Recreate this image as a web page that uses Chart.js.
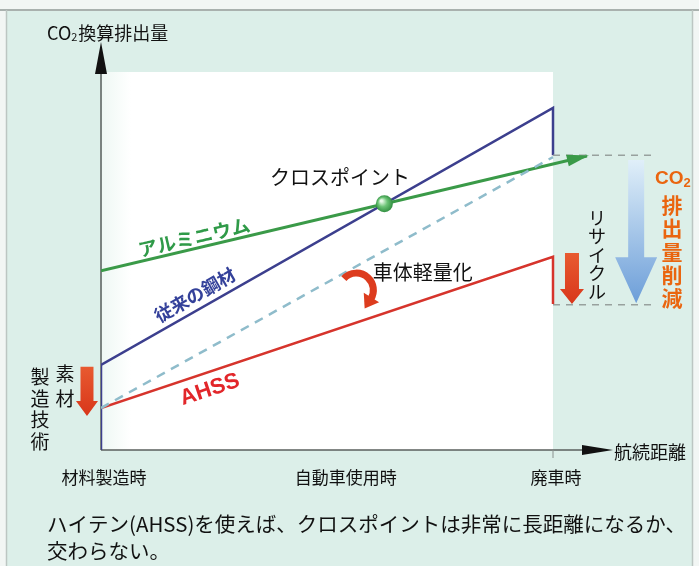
<!DOCTYPE html>
<html>
<head>
<meta charset="utf-8">
<script src="https://cdn.jsdelivr.net/npm/chart.js@4"></script>
<style>
  body { margin: 0; background: #f2f6f4; }
  canvas { display: block; }
</style>
</head>
<body>
<canvas id="mycanvas" width="699" height="566"></canvas>
<script>
// category ticks along the distance axis
var categories = ['材料製造時', '自動車使用時', '廃車時'];
var categoryX = [0, 0.535, 1];

// CO2 lines (x: 0 = material production, 1 = scrapping)
var aluminumX = [0, 1.075];
var aluminumY = [47.4, 77.8];
var steelX = [0, 0, 1, 1];
var steelY = [0, 22.5, 90.5, 78];
var ahssX = [0, 1, 1];
var ahssY = [11.1, 51.1, 38.6];
var ahssNoLightX = [0, 1];
var ahssNoLightY = [11.1, 77.5];
var guideX = [1, 1.23];
var guideHighY = [78, 78];
var guideLowY = [38.4, 38.4];

function pts(xs, ys) {
  var out = [];
  for (var i in xs) out.push({x: xs[i], y: ys[i]});
  return out;
}

var JP = '"Noto Sans CJK JP", "Noto Sans", sans-serif';

function arrowDown(ctx, x, top, tip, shaft, head, headLen, fill) {
  ctx.save();
  ctx.fillStyle = fill;
  ctx.beginPath();
  ctx.moveTo(x - shaft / 2, top);
  ctx.lineTo(x + shaft / 2, top);
  ctx.lineTo(x + shaft / 2, tip - headLen);
  ctx.lineTo(x + head / 2, tip - headLen);
  ctx.lineTo(x, tip);
  ctx.lineTo(x - head / 2, tip - headLen);
  ctx.lineTo(x - shaft / 2, tip - headLen);
  ctx.closePath();
  ctx.fill();
  ctx.restore();
}

function vtext(ctx, str, x, y0, step, font, color) {
  ctx.save();
  ctx.font = font;
  ctx.fillStyle = color;
  ctx.textAlign = 'center';
  ctx.textBaseline = 'middle';
  var chars = Array.from(str);
  for (var i = 0; i < chars.length; i++) ctx.fillText(chars[i], x, y0 + i * step);
  ctx.restore();
}

function rtext(ctx, str, x, y, ang, font, color) {
  ctx.save();
  ctx.translate(x, y);
  ctx.rotate(ang);
  ctx.font = font;
  ctx.fillStyle = color;
  ctx.textAlign = 'center';
  ctx.textBaseline = 'middle';
  ctx.fillText(str, 0, 0);
  ctx.restore();
}

var backdrop = {
  id: 'backdrop',
  beforeDraw: function(chart) {
    var ctx = chart.ctx, a = chart.chartArea;
    var xs = chart.scales.x;
    ctx.save();
    ctx.fillStyle = '#f2f6f4';
    ctx.fillRect(0, 0, 699, 566);
    ctx.fillStyle = '#dcefe9';
    ctx.fillRect(7, 11, 685, 555);
    ctx.strokeStyle = '#a9b1ae';
    ctx.lineWidth = 2;
    ctx.beginPath(); ctx.moveTo(0, 10); ctx.lineTo(699, 10); ctx.stroke();
    ctx.strokeStyle = '#bcc6c2';
    ctx.lineWidth = 1.5;
    ctx.beginPath(); ctx.moveTo(6.5, 10); ctx.lineTo(6.5, 566); ctx.stroke();
    ctx.beginPath(); ctx.moveTo(692.5, 10); ctx.lineTo(692.5, 566); ctx.stroke();
    // white plot panel up to the scrapping point
    var g = ctx.createLinearGradient(a.left, 0, a.left + 30, 0);
    g.addColorStop(0, '#eef8f4');
    g.addColorStop(1, '#ffffff');
    ctx.fillStyle = g;
    ctx.fillRect(a.left + 1, a.top, xs.getPixelForValue(1) - a.left - 1, a.bottom - a.top);
    ctx.restore();
  },
  beforeDatasetsDraw: function(chart) {
    var ctx = chart.ctx, a = chart.chartArea;
    ctx.save();
    ctx.strokeStyle = '#5a5f5d';
    ctx.lineWidth = 1.5;
    ctx.beginPath(); ctx.moveTo(a.left, a.bottom); ctx.lineTo(a.left, 60); ctx.stroke();
    ctx.beginPath(); ctx.moveTo(a.left, a.bottom); ctx.lineTo(595, a.bottom); ctx.stroke();
    ctx.fillStyle = '#111';
    ctx.beginPath(); ctx.moveTo(a.left, 42); ctx.lineTo(a.left + 6, 74); ctx.lineTo(a.left - 6, 74); ctx.closePath(); ctx.fill();
    ctx.beginPath(); ctx.moveTo(613, a.bottom); ctx.lineTo(582, a.bottom - 5); ctx.lineTo(582, a.bottom + 5); ctx.closePath(); ctx.fill();
    var x1 = chart.scales.x.getPixelForValue(1);
    ctx.strokeStyle = '#8a918e';
    ctx.lineWidth = 1;
    ctx.beginPath(); ctx.moveTo(x1, a.bottom); ctx.lineTo(x1, a.bottom + 8); ctx.stroke();
    ctx.restore();
  },
  afterDatasetsDraw: function(chart) {
    var ctx = chart.ctx, a = chart.chartArea;
    var xs = chart.scales.x, ys = chart.scales.y;
    function px(v) { return xs.getPixelForValue(v); }
    function py(v) { return ys.getPixelForValue(v); }

    // aluminium arrow head
    var ax0 = px(aluminumX[0]), ay0 = py(aluminumY[0]);
    var ax1 = px(aluminumX[1]), ay1 = py(aluminumY[1]);
    var ang = Math.atan2(ay1 - ay0, ax1 - ax0);
    ctx.save();
    ctx.translate(ax1, ay1);
    ctx.rotate(ang);
    ctx.fillStyle = '#3a9a48';
    ctx.beginPath(); ctx.moveTo(2, 0); ctx.lineTo(-20, -6); ctx.lineTo(-20, 6); ctx.closePath(); ctx.fill();
    ctx.restore();

    // cross point of aluminium and conventional steel
    var sx0 = px(steelX[1]), sy0 = py(steelY[1]), sx1 = px(steelX[2]), sy1 = py(steelY[2]);
    var m1 = (ay1 - ay0) / (ax1 - ax0), m2 = (sy1 - sy0) / (sx1 - sx0);
    var cx = (sy0 - ay0 + m1 * ax0 - m2 * sx0) / (m1 - m2);
    var cy = ay0 + m1 * (cx - ax0);
    var rg = ctx.createRadialGradient(cx - 3, cy - 3, 1, cx, cy, 9);
    rg.addColorStop(0, '#e8fae8');
    rg.addColorStop(0.45, '#6cc476');
    rg.addColorStop(1, '#2c8a3c');
    ctx.save();
    ctx.fillStyle = rg;
    ctx.beginPath(); ctx.arc(cx, cy, 8.5, 0, Math.PI * 2); ctx.fill();
    ctx.restore();

    // curved lightweighting arrow
    var ccx = px(0.565), ccy = py(42.3), r = 17;
    var endA = 0.75;
    ctx.save();
    ctx.strokeStyle = '#dd3c1e';
    ctx.lineWidth = 7;
    ctx.beginPath(); ctx.arc(ccx, ccy, r, -2.4, endA - 0.2); ctx.stroke();
    var ex = ccx + r * Math.cos(endA), ey = ccy + r * Math.sin(endA);
    ctx.translate(ex, ey);
    ctx.rotate(endA + Math.PI / 2 - 0.2);
    ctx.fillStyle = '#dd3c1e';
    ctx.beginPath(); ctx.moveTo(8, 0); ctx.lineTo(-5, -9); ctx.lineTo(-5, 9); ctx.closePath(); ctx.fill();
    ctx.restore();

    // red arrows: material technology and recycling
    var rg1 = ctx.createLinearGradient(0, py(22), 0, py(9));
    rg1.addColorStop(0, '#e85a30'); rg1.addColorStop(1, '#d8361a');
    arrowDown(ctx, px(-0.031), py(22), py(9), 13, 22, 15, rg1);
    var rg2 = ctx.createLinearGradient(0, py(52), 0, py(38.4));
    rg2.addColorStop(0, '#e85a30'); rg2.addColorStop(1, '#d8361a');
    arrowDown(ctx, px(1.042), py(52.1), py(38.6), 14, 24, 15, rg2);

    // big blue reduction arrow
    var bg = ctx.createLinearGradient(0, py(76.7), 0, py(38.4));
    bg.addColorStop(0, '#e0eff9'); bg.addColorStop(1, '#6b9dd8');
    arrowDown(ctx, px(1.184), py(76.7), py(38.8), 16, 42, 46, bg);

    // texts inside the plot
    var angA = Math.atan2(py(aluminumY[1]) - py(aluminumY[0]), px(aluminumX[1]) - px(aluminumX[0]));
    var angS = Math.atan2(py(steelY[2]) - py(steelY[1]), px(steelX[2]) - px(steelX[1]));
    var angH = Math.atan2(py(ahssY[1]) - py(ahssY[0]), px(ahssX[1]) - px(ahssX[0]));
    rtext(ctx, 'アルミニウム', px(0.206), py(56.3), angA, 'bold 19px ' + JP, '#2f9a48');
    rtext(ctx, '従来の鋼材', px(0.208), py(41.0), angS, 'bold 18px ' + JP, '#34419a');
    rtext(ctx, 'AHSS', px(0.241), py(15.9), angH, 'bold 22px Arial, "Liberation Sans", sans-serif', '#e2262a');
    rtext(ctx, 'クロスポイント', px(0.529), py(72.0), 0, '20px ' + JP, '#111');
    rtext(ctx, '車体軽量化', px(0.712), py(47.1), 0, '20px ' + JP, '#111');

    vtext(ctx, 'リサイクル', 597, 218, 18.5, '18px ' + JP, '#111');
    ctx.save();
    ctx.fillStyle = '#ea650f';
    ctx.font = 'bold 19px Arial, "Liberation Sans", sans-serif';
    ctx.textAlign = 'left';
    ctx.textBaseline = 'middle';
    ctx.fillText('CO', 655, 179);
    var w = ctx.measureText('CO').width;
    ctx.font = 'bold 13px Arial, "Liberation Sans", sans-serif';
    ctx.fillText('2', 655 + w, 183);
    ctx.restore();
    vtext(ctx, '排出量削減', 672, 205, 23.3, 'bold 21px ' + JP, '#ea650f');

    vtext(ctx, '素材', 65, 374, 25, '19px ' + JP, '#111');
    vtext(ctx, '製造技術', 40, 377, 21.5, '19px ' + JP, '#111');

    // axis captions and category ticks
    ctx.save();
    ctx.fillStyle = '#111';
    ctx.textBaseline = 'middle';
    ctx.textAlign = 'left';
    ctx.font = '18px ' + JP;
    ctx.fillText('CO', 47, 33);
    var cw = ctx.measureText('CO').width;
    ctx.font = '11px ' + JP;
    ctx.fillText('2', 47 + cw, 37);
    var c2 = ctx.measureText('2').width;
    ctx.font = '18px ' + JP;
    ctx.fillText('換算排出量', 48 + cw + c2, 33);
    ctx.fillText('航続距離', 614, 452);
    ctx.textAlign = 'center';
    ctx.font = '17px ' + JP;
    for (var i in categories) ctx.fillText(categories[i], px(categoryX[i]) + 3, 478);
    ctx.textAlign = 'left';
    ctx.font = '20.5px ' + JP;
    ctx.fillText('ハイテン(AHSS)を使えば、クロスポイントは非常に長距離になるか、', 47, 524);
    ctx.fillText('交わらない。', 47, 551);
    ctx.restore();
  }
};

var chartdata = {
  datasets: [
    {
      label: 'AHSS（軽量化前）',
      data: pts(ahssNoLightX, ahssNoLightY),
      borderColor: '#8fbccb',
      borderWidth: 2.5,
      borderDash: [9, 7]
    },
    {
      label: 'ガイド上',
      data: pts(guideX, guideHighY),
      borderColor: '#98a19e',
      borderWidth: 1.5,
      borderDash: [7, 6]
    },
    {
      label: 'ガイド下',
      data: pts(guideX, guideLowY),
      borderColor: '#98a19e',
      borderWidth: 1.5,
      borderDash: [7, 6]
    },
    {
      label: 'アルミニウム',
      data: pts(aluminumX, aluminumY),
      borderColor: '#3a9a48',
      borderWidth: 3
    },
    {
      label: '従来の鋼材',
      data: pts(steelX, steelY),
      borderColor: '#3c3f8e',
      borderWidth: 2.5
    },
    {
      label: 'AHSS',
      data: pts(ahssX, ahssY),
      borderColor: '#d6342c',
      borderWidth: 2.5
    }
  ]
};

var ctx = document.getElementById('mycanvas');
var chart = new Chart(ctx, {
  type: 'scatter',
  data: chartdata,
  options: {
    responsive: false,
    devicePixelRatio: 1,
    animation: false,
    showLine: true,
    elements: { point: { radius: 0 }, line: { tension: 0, fill: false, borderJoinStyle: 'miter' } },
    layout: { padding: { left: 101, right: 10.4, top: 72, bottom: 116 } },
    scales: {
      x: { type: 'linear', display: false, min: 0, max: 1.3 },
      y: { type: 'linear', display: false, min: 0, max: 100 }
    },
    plugins: { legend: { display: false }, tooltip: { enabled: false } }
  },
  plugins: [backdrop]
});
</script>
</body>
</html>
